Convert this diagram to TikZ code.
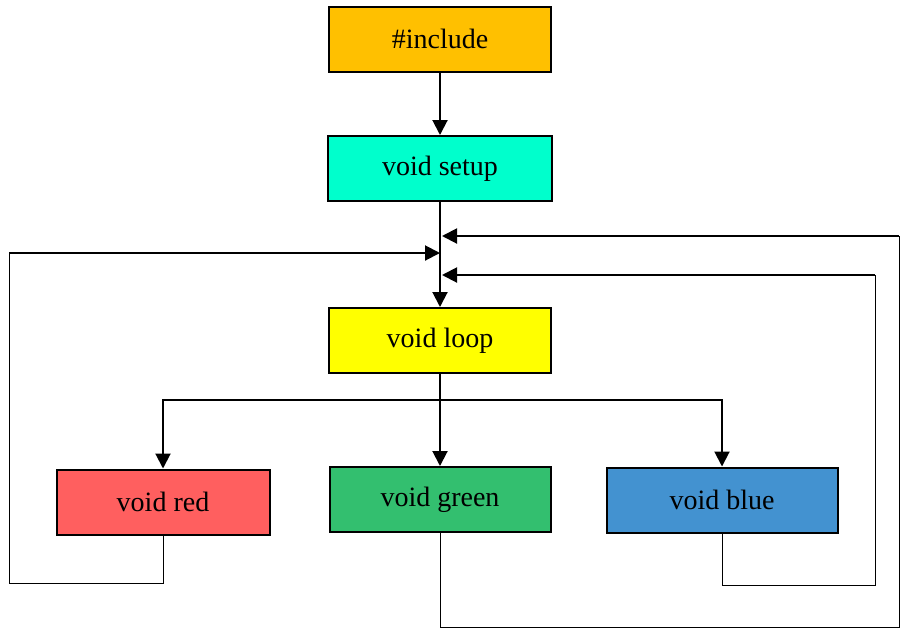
\documentclass[tikz,border=0pt]{standalone}
\usepackage{fontspec}
\setmainfont{Liberation Serif}
\usetikzlibrary{arrows.meta}
\definecolor{includecol}{HTML}{FFC000}
\definecolor{setupcol}{HTML}{00FFCC}
\definecolor{loopcol}{HTML}{FFFF00}
\definecolor{redcol}{HTML}{FF5F5F}
\definecolor{greencol}{HTML}{33BF6F}
\definecolor{bluecol}{HTML}{4392D0}
\begin{document}
\begin{tikzpicture}[x=1pt, y=-1pt,
		block/.style={draw=black, line width=2pt, minimum width=#1, minimum height=65pt,
			inner sep=0pt, font=\fontsize{28}{32}\selectfont},
		flow/.style={line width=2pt, -{Triangle[length=15pt, width=15pt]}},
		back/.style={line width=1pt}]
			\useasboundingbox (0,0) rectangle (901,630);
			\node[block=222pt, fill=includecol] (include) at (440,39) {\#include};
			\node[block=224pt, fill=setupcol] (setup) at (440,168.5) {void setup};
			\node[block=222pt, fill=loopcol] (loop) at (440,340.5) {void loop};
			\node[block=213pt, fill=redcol] (red) at (163,502) {void red};
			\node[block=221pt, fill=greencol] (green) at (440,499.5) {void green};
			\node[block=231pt, fill=bluecol] (blue) at (722,500) {void blue};
			\coordinate (split) at (440,400);
			\coordinate (red in) at (440,253);
			\coordinate (green in) at (442,236);
			\coordinate (blue in) at (442,275);
			\coordinate (red turn) at (9,583);
			\coordinate (green turn) at (899,627);
			\coordinate (blue turn) at (875,585);
			\draw[flow] (include) -- (setup);
			\draw[flow] (setup) -- (loop);
			\draw[line width=2pt] (loop) -- (split);
			\draw[flow] (split) -| (red.north);
			\draw[flow] (split) -- (green.north);
			\draw[flow] (split) -| (blue.north);
			% back to the loop
			\draw[back] (red.south) |- (red turn) -- (red turn |- red in);
			\draw[flow] (red turn |- red in) -- (red in);
			\draw[back] (green.south) |- (green turn) -- (green turn |- green in);
			\draw[flow] (green turn |- green in) -- (green in);
			\draw[back] (blue.south) |- (blue turn) -- (blue turn |- blue in);
			\draw[flow] (blue turn |- blue in) -- (blue in);
		\end{tikzpicture}
\end{document}
